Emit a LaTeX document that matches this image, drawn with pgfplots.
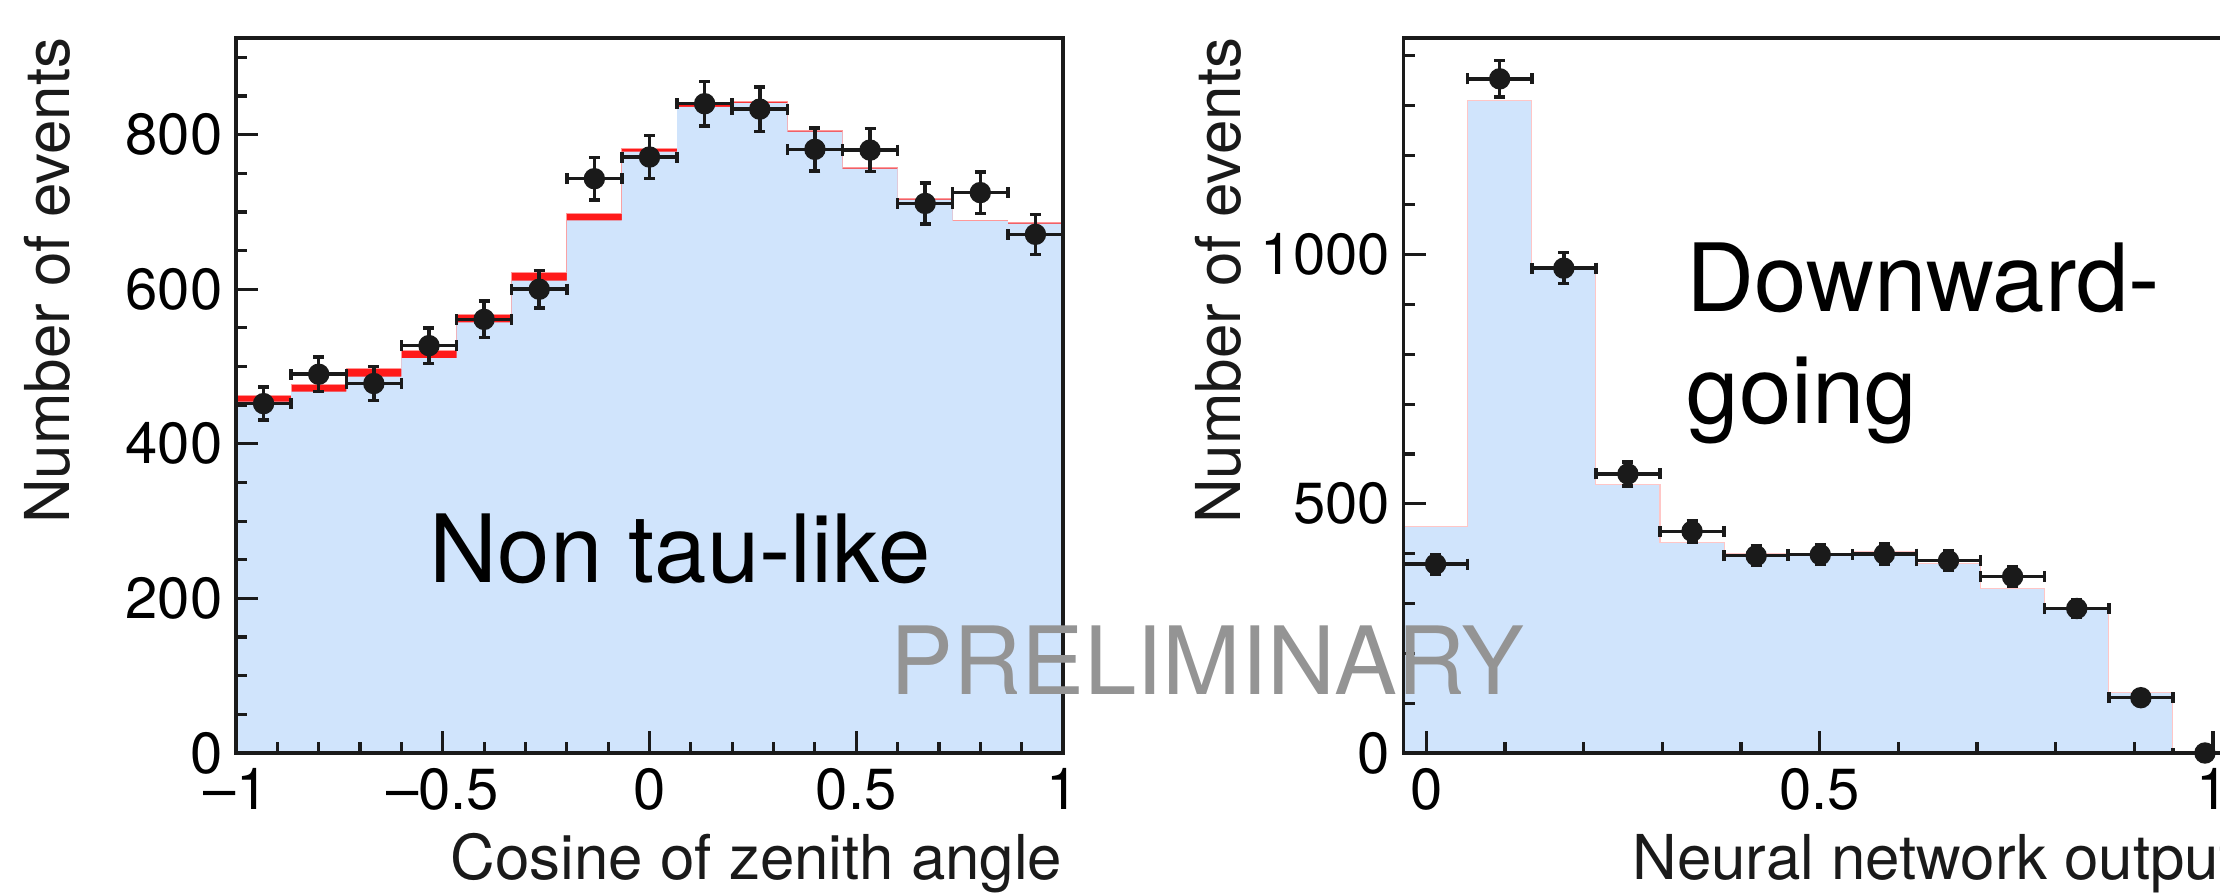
\documentclass[border=0pt]{standalone}
\usepackage{fontspec}
\setmainfont{TeX Gyre Heros}
\usepackage{pgfplots}
\pgfplotsset{compat=1.18}

\definecolor{histblue}{HTML}{D0E4FC}
\definecolor{histred}{HTML}{FF1A1A}
\definecolor{dataink}{HTML}{1A1A1A}
\definecolor{prelim}{HTML}{949494}

\newcommand{\tickfont}{\fontsize{16.5}{19}\selectfont}
\newcommand{\labelfont}{\fontsize{17.6}{21}\selectfont}
\newcommand{\bigfont}{\fontsize{26.8}{32}\selectfont}

% ROOT-like frame: ticks inside, only bottom and left
\pgfplotsset{rootframe/.style={
    scale only axis,
    axis on top,
    clip mode=individual,
    anchor=south west,
    ymin=0,
    axis line style={line width=1pt, dataink},
    tick style={line width=0.9pt, dataink},
    tick align=inside,
    tick pos=left,
    major tick length=0.22cm,
    minor tick length=0.11cm,
    tick label style={font=\tickfont},
    yticklabel style={inner sep=0pt, xshift=-0.13cm},
    xticklabel style={inner sep=0pt, yshift=-0.15cm},
},
datapts/.style={
    only marks, mark=*, mark size=0.1cm,
    mark options={fill=dataink, draw=dataink},
    error bars/.cd,
      x dir=both, x explicit, y dir=both, y explicit,
      error bar style={line width=1pt, dataink},
      error mark=-,
      error mark options={rotate=90, line width=1pt, mark size=0.055cm, dataink},
}}

\begin{document}
\begin{tikzpicture}
\path[use as bounding box] (0,0) rectangle (22.2,8.92);
\clip (0,0) rectangle (22.2,8.92);

% ---------------- left: non tau-like, cos zenith ----------------
\begin{axis}[rootframe,
    at={(2.36cm,1.39cm)},
    width=8.27cm, height=7.15cm,
    xmin=-1, xmax=1, ymax=925,
    xtick={-1,-0.5,0,0.5,1},
    xticklabels={\textendash1,\textendash0.5,0,0.5,1},
    minor xtick={-0.9,-0.8,-0.7,-0.6,-0.4,-0.3,-0.2,-0.1,0.1,0.2,0.3,0.4,0.6,0.7,0.8,0.9},
    ytick={0,200,400,600,800},
    yticklabels={0,200,400,600,800},
    minor ytick={50,100,150,250,300,350,450,500,550,650,700,750,850,900},
]
% expectation incl. signal (red), shows above the blue one
\addplot[const plot mark left, fill=histred, draw=histred!45, line width=0.3pt] coordinates {
    (-1,463) (-0.86667,477) (-0.73333,497) (-0.6,521) (-0.46667,567)
    (-0.33333,622) (-0.2,698) (-0.06667,782) (0.06667,840) (0.2,843)
    (0.33333,805) (0.46667,757) (0.6,717) (0.73333,689) (0.86667,686) (1,686)
} \closedcycle;
\addplot[const plot mark left, fill=histblue, draw=none] coordinates {
    (-1,454.5) (-0.86667,467.4) (-0.73333,487) (-0.6,511) (-0.46667,557)
    (-0.33333,611) (-0.2,689) (-0.06667,778) (0.06667,836) (0.2,841)
    (0.33333,804) (0.46667,756) (0.6,716) (0.73333,688) (0.86667,685) (1,685)
} \closedcycle;
\addplot[datapts] coordinates {
    (-0.93333,452) +- (0.066667,21.3)
    (-0.8,490)     +- (0.066667,22.1)
    (-0.66667,478) +- (0.066667,21.9)
    (-0.53333,527) +- (0.066667,23.0)
    (-0.4,561)     +- (0.066667,23.7)
    (-0.26667,600) +- (0.066667,24.5)
    (-0.13333,743) +- (0.066667,27.3)
    (0,771)        +- (0.066667,27.8)
    (0.13333,840)  +- (0.066667,29.0)
    (0.26667,833)  +- (0.066667,28.9)
    (0.4,781)      +- (0.066667,27.9)
    (0.53333,780)  +- (0.066667,27.9)
    (0.66667,711)  +- (0.066667,26.7)
    (0.8,725)      +- (0.066667,26.9)
    (0.93333,671)  +- (0.066667,25.9)
};
\end{axis}

% ---------------- right: downward-going, NN output ----------------
\begin{axis}[rootframe,
    at={(14.035cm,1.39cm)},
    width=8.335cm, height=7.15cm,
    xmin=-0.029, xmax=1.0305, ymax=1435,
    xtick={0,0.5,1},
    xticklabels={0,0.5,1},
    minor xtick={0.1,0.2,0.3,0.4,0.6,0.7,0.8,0.9},
    ytick={0,500,1000},
    yticklabels={0,500,1000},
    minor ytick={100,200,300,400,600,700,800,900,1100,1200,1300,1400},
]
\addplot[const plot mark left, fill=histblue, draw=histred!25, line width=0.3pt] coordinates {
    (-0.029,455) (0.0525,1310) (0.134,975) (0.2155,538) (0.297,422)
    (0.3785,400) (0.46,401) (0.5415,405) (0.623,380) (0.7045,330)
    (0.786,288) (0.8675,122) (0.949,0) (1.0305,0)
} \closedcycle;
\addplot[datapts] coordinates {
    (0.01175,379)  +- (0.04075,19.5)
    (0.09325,1353) +- (0.04075,36.8)
    (0.17475,973)  +- (0.04075,31.2)
    (0.25625,560)  +- (0.04075,23.7)
    (0.33775,445)  +- (0.04075,21.1)
    (0.41925,396)  +- (0.04075,19.9)
    (0.50075,398)  +- (0.04075,19.9)
    (0.58225,399)  +- (0.04075,20.0)
    (0.66375,386)  +- (0.04075,19.6)
    (0.74525,354)  +- (0.04075,18.8)
    (0.82675,290)  +- (0.04075,17.0)
    (0.90825,111)  +- (0.04075,10.5)
    (0.98975,0)    +- (0.04075,0)
};
\end{axis}

% axis titles, ROOT style: flush with the axis ends
\node[font=\labelfont, rotate=90, anchor=base east, inner sep=0pt, dataink]
    at (0.70,8.55) {Number of events};
\node[font=\labelfont, rotate=90, anchor=base east, inner sep=0pt, dataink]
    at (12.40,8.55) {Number of events};
\node[font=\labelfont, anchor=base east, inner sep=0pt, dataink]
    at (10.63,0.127) {Cosine of zenith angle};
\node[font=\labelfont, anchor=base east, inner sep=0pt, dataink]
    at (22.37,0.127) {Neural network output};

% in-plot captions
\node[font=\bigfont, anchor=base west, inner sep=0pt]
    at (4.29,3.095) {Non tau-like};
\node[font=\bigfont, anchor=base west, inner sep=0pt]
    at (16.86,5.803) {Downward-};
\node[font=\bigfont, anchor=base west, inner sep=0pt]
    at (16.86,4.687) {going};
\node[font=\bigfont, anchor=base west, inner sep=0pt, prelim]
    at (8.90,1.977) {PRELIMINARY};
\end{tikzpicture}
\end{document}
